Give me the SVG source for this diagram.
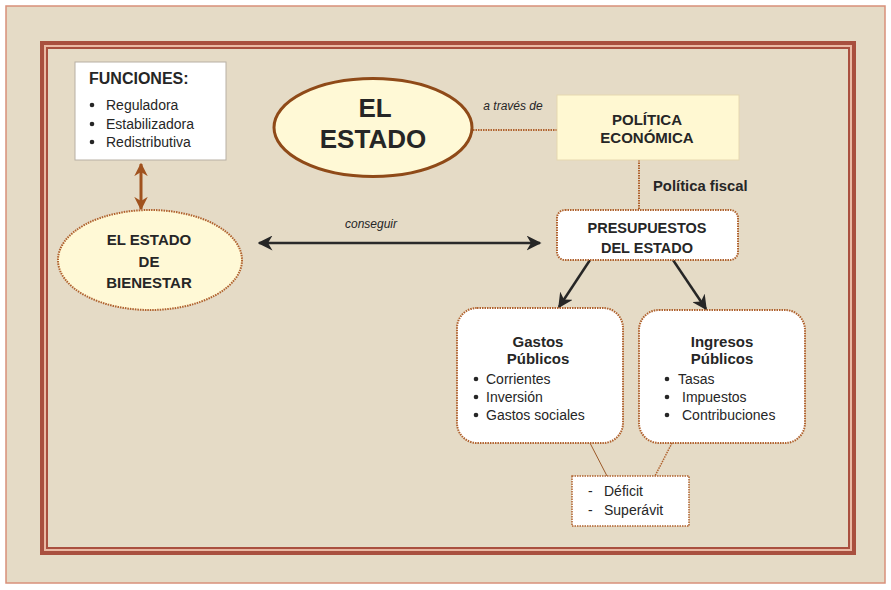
<svg xmlns="http://www.w3.org/2000/svg" width="891" height="590" viewBox="0 0 891 590">
<defs>
<style>
text{font-family:"Liberation Sans",Arial,sans-serif;fill:#262626}
.b{font-weight:bold}
.c{text-anchor:middle}
.i{font-style:italic;font-size:12px}
.dot{stroke:#b0622e;stroke-width:2;stroke-dasharray:1.5 1;fill:#fff}
.t14{font-size:14.8px}
</style>
<marker id="ab" viewBox="0 0 10 10" refX="9" refY="5" markerWidth="6" markerHeight="6" orient="auto-start-reverse"><path d="M0,0 L10,5 L0,10 L3,5 Z" fill="#262626"/></marker>
<marker id="ar" viewBox="0 0 10 10" refX="9" refY="5" markerWidth="4.5" markerHeight="4.5" orient="auto-start-reverse"><path d="M0,0 L10,5 L0,10 L3,5 Z" fill="#a0521e"/></marker>
</defs>
<rect x="0" y="0" width="891" height="590" fill="#fff"/>
<rect x="6" y="6" width="879" height="577" fill="#e5dbc6" stroke="#d8907a" stroke-width="1.5"/>
<rect x="42" y="43" width="812" height="510" fill="none" stroke="#a9503f" stroke-width="4"/>
<rect x="45" y="46" width="806" height="504" fill="none" stroke="#eab9a4" stroke-width="2"/>
<rect x="47" y="48" width="802" height="500" fill="none" stroke="#a9503f" stroke-width="2"/>

<g id="connectors">
<line x1="141" y1="164" x2="141" y2="209" stroke="#a0521e" stroke-width="3" marker-start="url(#ar)" marker-end="url(#ar)"/>
<line x1="473" y1="130" x2="557" y2="130" stroke="#b0622e" stroke-width="2" stroke-dasharray="1.5 1"/>
<text x="513" y="110" class="i c">a través de</text>
<line x1="639" y1="160" x2="639" y2="210" stroke="#b0622e" stroke-width="2" stroke-dasharray="1.5 1"/>
<text x="653" y="191" class="b t14">Política fiscal</text>
<line x1="259" y1="243" x2="540" y2="243" stroke="#2a2a2a" stroke-width="2.5" marker-start="url(#ab)" marker-end="url(#ab)"/>
<text x="371" y="228" class="i c">conseguir</text>
<line x1="590" y1="260" x2="559" y2="307" stroke="#262626" stroke-width="2.5" marker-end="url(#ab)"/>
<line x1="673" y1="260" x2="706" y2="309" stroke="#262626" stroke-width="2.5" marker-end="url(#ab)"/>
<line x1="590" y1="443" x2="607" y2="476" stroke="#9c5a2a" stroke-width="1"/>
<line x1="672" y1="443" x2="655" y2="476" stroke="#b0622e" stroke-width="1.5" stroke-dasharray="1.5 1"/>
</g>

<g id="funciones">
<rect x="75" y="62" width="151" height="98" fill="#fff" stroke="#b8b0a4" stroke-width="1"/>
<text x="89" y="84" class="b" font-size="16">FUNCIONES:</text>
<g font-size="14">
<circle cx="92" cy="105" r="2.3" fill="#262626"/><text x="106" y="110">Reguladora</text>
<circle cx="92" cy="124" r="2.3" fill="#262626"/><text x="106" y="129">Estabilizadora</text>
<circle cx="92" cy="142" r="2.3" fill="#262626"/><text x="106" y="147">Redistributiva</text>
</g>
</g>

<g id="el-estado">
<ellipse cx="373" cy="127.5" rx="99" ry="49" fill="#fff9d6" stroke="#8f4a18" stroke-width="3"/>
<text x="375" y="117" class="b c" font-size="26">EL</text>
<text x="373" y="148" class="b c" font-size="26">ESTADO</text>
</g>

<g id="politica">
<rect x="557" y="95" width="182" height="65" fill="#fff8d2" stroke="#e6d8b0" stroke-width="1"/>
<text x="647" y="125" class="b c" font-size="15">POLÍTICA</text>
<text x="647" y="143" class="b c" font-size="15">ECONÓMICA</text>
</g>

<g id="bienestar">
<ellipse cx="150" cy="260" rx="92" ry="50" fill="#fff9d6" stroke="#b0622e" stroke-width="2" stroke-dasharray="1.5 1"/>
<text x="149" y="245" class="b c" font-size="15">EL ESTADO</text>
<text x="149" y="267" class="b c" font-size="15">DE</text>
<text x="149" y="288" class="b c" font-size="15">BIENESTAR</text>
</g>

<g id="presupuestos">
<rect x="557" y="210" width="181" height="50" rx="8" class="dot"/>
<text x="647" y="233" class="b c" font-size="14.5">PRESUPUESTOS</text>
<text x="647" y="253" class="b c" font-size="14.5">DEL ESTADO</text>
</g>

<g id="gastos">
<rect x="457" y="308" width="166" height="135" rx="20" class="dot"/>
<text x="538" y="347" class="b c" font-size="15">Gastos</text>
<text x="538" y="364" class="b c" font-size="15">Públicos</text>
<g font-size="14">
<circle cx="476" cy="379" r="2.3" fill="#262626"/><text x="486" y="384">Corrientes</text>
<circle cx="476" cy="397" r="2.3" fill="#262626"/><text x="486" y="402">Inversión</text>
<circle cx="476" cy="415" r="2.3" fill="#262626"/><text x="486" y="420">Gastos sociales</text>
</g>
</g>

<g id="ingresos">
<rect x="639" y="310" width="166" height="133" rx="20" class="dot"/>
<text x="722" y="347" class="b c" font-size="15">Ingresos</text>
<text x="722" y="364" class="b c" font-size="15">Públicos</text>
<g font-size="14">
<circle cx="667" cy="379" r="2.3" fill="#262626"/><text x="678" y="384">Tasas</text>
<circle cx="667" cy="397" r="2.3" fill="#262626"/><text x="682" y="402">Impuestos</text>
<circle cx="667" cy="415" r="2.3" fill="#262626"/><text x="682" y="420">Contribuciones</text>
</g>
</g>

<g id="deficit">
<rect x="572" y="476" width="117" height="50" fill="#fff" stroke="#b0622e" stroke-width="1.5" stroke-dasharray="1.5 1"/>
<g font-size="14">
<text x="588" y="496">-</text><text x="604" y="496">Déficit</text>
<text x="588" y="515">-</text><text x="604" y="515">Superávit</text>
</g>
</g>
</svg>
